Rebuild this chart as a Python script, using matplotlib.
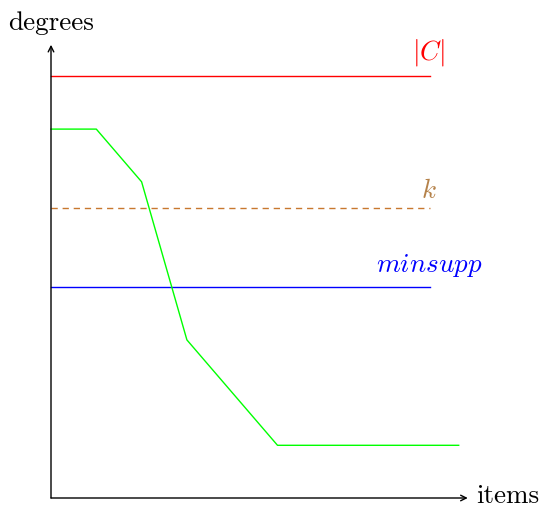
import matplotlib
matplotlib.use("Agg")
import matplotlib.pyplot as plt

plt.rcParams["mathtext.fontset"] = "cm"
plt.rcParams["font.family"] = "cmr10"
plt.rcParams["axes.formatter.use_mathtext"] = True

#  Data 
items_x   = [0, 1, 2, 3, 5, 9]
degrees_y = [7, 7, 6, 3, 1, 1]

level_names  = [r"$|C|$", r"$k$", r"$minsupp$"]
level_values = [8.0, 5.5, 4.0]
level_colors = ["#ff0000", "#c8782f", "#0000ff"]
label_colors = ["#ff0000", "#b5824a", "#0000ff"]
level_styles = ["-", (0, (4.5, 3.5)), "-"]
label_gaps   = [0.15, 0.1, 0.15]
line_end = 8.37

#  Figure 
fig = plt.figure(figsize=(5.4, 5.08), dpi=100)
ax = fig.add_axes([0, 0, 1, 1])
ax.set_xlim(-51 / 45.3, (540 - 51) / 45.3)
ax.set_ylim(-10 / 52.7, 498 / 52.7)
ax.axis("off")

# axes arrows
arrow = dict(arrowstyle="->", color="black", lw=1.0, shrinkA=0, shrinkB=0)
ax.annotate("", xy=(9.2, 0), xytext=(0, 0), arrowprops=arrow)
ax.annotate("", xy=(0, 8.6), xytext=(0, 0), arrowprops=arrow)
ax.text(0, 8.88, "degrees", ha="center", va="baseline", fontsize=19.5)
ax.text(9.38, -0.1, "items", ha="left", va="baseline", fontsize=19.5)

# level lines
for name, val, c, lc, ls, gap in zip(level_names, level_values, level_colors,
                                     label_colors, level_styles, label_gaps):
    ax.plot([0, line_end], [val, val], color=c, lw=1.0, linestyle=ls)
    ax.text(line_end - 0.03, val + gap, name, color=lc, ha="center",
            va="bottom", fontsize=19.5)

# degree curve
ax.plot(items_x, degrees_y, color="#00ff00", lw=1.0)

fig.savefig("out.png", dpi=100)
